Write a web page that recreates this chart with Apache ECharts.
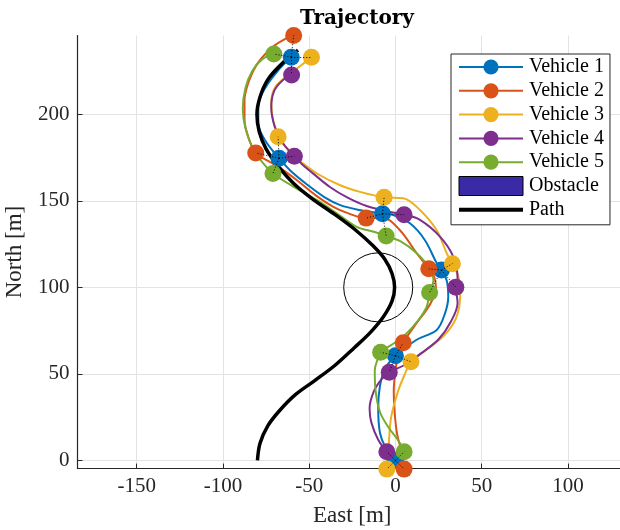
<!DOCTYPE html>
<html>
<head>
<meta charset="utf-8">
<script src="https://cdn.jsdelivr.net/npm/echarts@6/dist/echarts.min.js"></script>
<style>
  html, body { margin: 0; padding: 0; background: #fff; }
  #chart { width: 620px; height: 530px; }
</style>
</head>
<body>
<div id="chart"></div>
<script>
// tick labels
const xTicks = [-150, -100, -50, 0, 50, 100];
const yTicks = [0, 50, 100, 150, 200];

// reference path (black)
const pathPts = [[-80, 0], [-78.5, 10], [-74, 20], [-67, 29], [-58, 38], [-47, 46], [-35, 55], [-24, 65],
  [-14.5, 74], [-7, 83], [-2, 92], [-0.5, 100], [-2, 108], [-6, 116], [-13, 124], [-23, 133], [-35, 142],
  [-48, 151], [-59, 160], [-68, 170], [-75, 180], [-79, 190], [-80.3, 200], [-78.5, 210], [-74, 220],
  [-66, 229], [-56.5, 237]];

// obstacle: centre x, centre y, radius
const obstacle = [[-10, 100, 20]];

// vehicle trajectories
const traj1 = [[0, 0], [-6, 8], [-9, 16], [-10, 30], [-9, 43], [-6, 53], [0, 60.5], [12, 69.6], [23.9, 75.4],
  [28.7, 85], [30.6, 94.6], [29.7, 104], [26.7, 110], [23.9, 114], [17, 127.4], [8.4, 137], [-1.3, 141.8],
  [-7.5, 142.5], [-20, 144.5], [-32, 147.5], [-41, 152], [-52, 160], [-61, 167.5], [-67.5, 174.6],
  [-75.6, 185], [-79.5, 195], [-79.5, 205], [-75.6, 215], [-68.3, 225], [-60.4, 233]];
const traj2 = [[5, -5], [3.5, 5], [1, 15], [-0.5, 28], [-1, 40], [0, 52], [1.5, 60], [4.5, 68], [12, 79],
  [18, 87], [21.5, 93], [23.5, 99], [22.5, 106], [19.3, 110.7], [12.3, 119.7], [2.6, 133], [-7, 140],
  [-17, 140], [-28, 143], [-36, 146.5], [-46, 153], [-56, 161], [-64, 167], [-72, 172], [-81, 177.6],
  [-85, 186], [-87.5, 197], [-87.5, 208], [-85, 219], [-79.5, 230], [-71, 239], [-64, 243.5], [-59, 245.5]];
const traj3 = [[-5, -5], [-4, 8], [-2.5, 25], [1.5, 40], [5.5, 50], [9, 57], [18, 64], [28, 72], [35, 82],
  [37.5, 95], [36.5, 106], [33, 113.7], [29.7, 119.7], [23.9, 133], [14.2, 144.7], [4.5, 151.5],
  [-6.6, 152], [-20, 155], [-32, 159], [-45, 165.5], [-56, 173.5], [-63, 180.5], [-68, 187], [-71, 197],
  [-72, 207], [-69.5, 216], [-63, 222], [-55, 228], [-48.7, 233]];
const traj4 = [[-5, 5], [-10, 12], [-14, 22], [-15, 30], [-12.5, 40], [-8, 47], [-3.6, 51], [5, 55],
  [15, 62], [25, 70], [32, 80], [36, 91], [35, 100], [36, 105], [33.5, 117.7], [25.8, 129.3], [14.2, 139],
  [5, 142], [-5, 144], [-16.7, 147], [-28, 152], [-38, 158], [-48, 166], [-54, 171], [-58.6, 175.8],
  [-65, 183], [-70, 193], [-72, 204], [-70.5, 213], [-66, 219], [-60.2, 222.7]];
const traj5 = [[5, 5], [2, 11], [-4, 19], [-9, 28], [-11.5, 40], [-12, 52], [-10.5, 58], [-8.6, 62.5],
  [-2, 67], [4.5, 71.5], [13.2, 81], [18.1, 88.8], [19.8, 97], [22, 104], [19, 112], [12, 120], [3, 126.5],
  [-5.4, 129.7], [-12, 132], [-22.5, 135], [-34, 142.8], [-45.7, 150.5], [-59.2, 158.2], [-71, 165.8],
  [-77, 172], [-83, 181], [-87, 192], [-88.5, 203], [-87, 215], [-83, 225], [-77, 232], [-70.5, 234.8]];

// formation snapshots (markers)
const snap1 = [[0, 0], [0, 60.5], [26.7, 110], [-7.5, 142.5], [-67.5, 174.6], [-60.4, 233]];
const snap2 = [[5, -5], [4.5, 68], [19.3, 110.7], [-17, 140], [-81, 177.6], [-59, 245.5]];
const snap3 = [[-5, -5], [9, 57], [33, 113.7], [-6.6, 152], [-68, 187], [-48.7, 233]];
const snap4 = [[-5, 5], [-3.6, 51], [35, 100], [5, 142], [-58.6, 175.8], [-60.2, 222.7]];
const snap5 = [[5, 5], [-8.6, 62.5], [19.8, 97], [-5.4, 129.7], [-71, 165.8], [-70.5, 234.8]];

const names = ['Vehicle 1', 'Vehicle 2', 'Vehicle 3', 'Vehicle 4', 'Vehicle 5'];
const colors = ['#0072BD', '#D95319', '#EDB120', '#7E2F8E', '#77AC30'];
const trajs = [traj1, traj2, traj3, traj4, traj5];
const snaps = [snap1, snap2, snap3, snap4, snap5];

const font = 'Liberation Serif';
const axisColor = '#262626';

// dotted formation links: leader (vehicle 1) to each other vehicle
const links = [];
snap1.forEach((p, i) => {
  for (let k = 1; k < snaps.length; k++) {
    links.push({ coords: [p, snaps[k][i]] });
  }
});

const series = [];
names.forEach((n, i) => {
  series.push({
    name: n,
    type: 'line',
    data: trajs[i],
    smooth: 0.35,
    symbol: 'circle',
    showSymbol: false,
    color: colors[i],
    lineStyle: { width: 2, color: colors[i] },
    itemStyle: { color: colors[i] },
    z: 2
  });
});
names.forEach((n, i) => {
  series.push({
    name: n,
    type: 'scatter',
    data: snaps[i],
    symbol: 'circle',
    symbolSize: 17,
    itemStyle: { color: colors[i], opacity: 1 },
    clip: false,
    z: 4
  });
});
series.push({
  name: 'Obstacle',
  type: 'custom',
  data: obstacle,
  encode: { x: 0, y: 1 },
  renderItem: function (params, api) {
    const c = api.coord([api.value(0), api.value(1)]);
    const s = api.size([api.value(2), api.value(2)]);
    return {
      type: 'circle',
      shape: { cx: c[0], cy: c[1], r: s[0] },
      style: { fill: 'none', stroke: '#000', lineWidth: 1 }
    };
  },
  itemStyle: { color: '#3B2AA5' },
  z: 1
});
series.push({
  name: 'Path',
  type: 'line',
  data: pathPts,
  smooth: 0.35,
  symbol: 'none',
  color: '#000',
  lineStyle: { width: 3.5, color: '#000' },
  z: 3
});
series.push({
  name: 'links',
  type: 'lines',
  coordinateSystem: 'cartesian2d',
  data: links,
  lineStyle: { color: '#000', width: 1, type: [1, 2], opacity: 1 },
  silent: true,
  z: 5
});

const option = {
  animation: false,
  backgroundColor: '#fff',
  textStyle: { fontFamily: font },
  title: {
    text: 'Trajectory',
    left: 352,
    textAlign: 'center',
    top: 4,
    textStyle: { fontFamily: 'DejaVu Serif', fontWeight: 'bold', fontSize: 20, color: '#000' }
  },
  grid: { left: 77.5, top: 35.5, width: 549.5, height: 433.1, outerBoundsMode: 'none' },
  xAxis: {
    type: 'value',
    min: -184.3,
    max: 134.2,
    name: 'East [m]',
    nameLocation: 'middle',
    nameGap: 36,
    nameTextStyle: { fontFamily: font, fontSize: 23, color: axisColor },
    axisLine: { show: true, onZero: false, lineStyle: { color: axisColor, width: 1.2 } },
    axisTick: { show: true, inside: true, length: 5, customValues: xTicks, lineStyle: { color: axisColor } },
    axisLabel: { customValues: xTicks, fontFamily: font, fontSize: 21, color: axisColor, margin: 7 },
    splitLine: { show: true, lineStyle: { color: '#e3e3e3', width: 1 } }
  },
  yAxis: {
    type: 'value',
    min: -4.7,
    max: 245.5,
    name: 'North [m]',
    nameLocation: 'middle',
    nameGap: 51,
    nameTextStyle: { fontFamily: font, fontSize: 23, color: axisColor },
    axisLine: { show: true, onZero: false, lineStyle: { color: axisColor, width: 1.2 } },
    axisTick: { show: true, inside: true, length: 5, customValues: yTicks, lineStyle: { color: axisColor } },
    axisLabel: { customValues: yTicks, fontFamily: font, fontSize: 21, color: axisColor, margin: 8 },
    splitLine: { show: true, lineStyle: { color: '#e3e3e3', width: 1 } }
  },
  legend: {
    orient: 'vertical',
    left: 451,
    top: 54,
    width: 158,
    padding: [3, 6, 5, 6],
    itemWidth: 64,
    itemHeight: 19,
    itemGap: 3.8,
    backgroundColor: '#fff',
    borderColor: axisColor,
    borderWidth: 1,
    borderRadius: 0,
    textStyle: { fontFamily: font, fontSize: 20, color: '#000', padding: [0, 0, 0, 1] },
    data: names.concat([
      { name: 'Obstacle', icon: 'rect', itemStyle: { color: '#3B2AA5', borderColor: '#000', borderWidth: 1 } },
      { name: 'Path', itemStyle: { opacity: 0 }, lineStyle: { width: 4 } }
    ])
  },
  series: series
};

const chart = echarts.init(document.getElementById('chart'));
chart.setOption(option);
</script>
</body>
</html>
